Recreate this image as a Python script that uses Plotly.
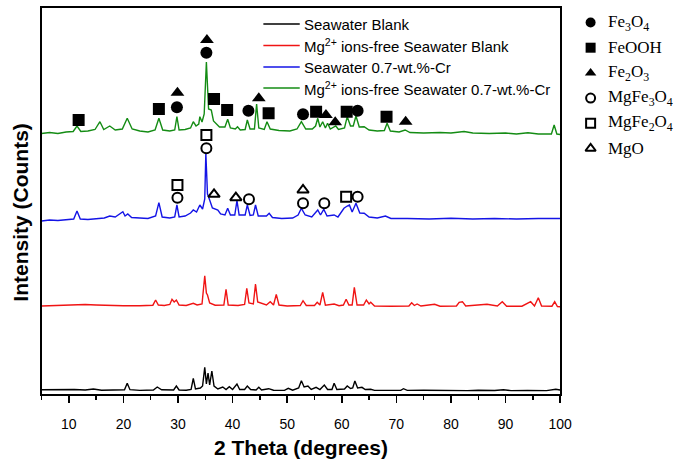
import plotly.graph_objects as go

W, H = 694, 468

# ---------------- data (2θ in degrees, intensity in arbitrary stacked units) ----------------
black_x = [5, 7, 9, 11, 13, 14.5, 16, 18, 20.2, 20.7, 21.2, 23, 25.5, 26.2, 27, 29.2, 29.7, 30.2, 31.5, 32.4,
           32.8, 33.2, 34.1, 34.5, 34.9, 35.2, 35.5, 35.8, 36.2, 36.6, 37.3, 38.2, 38.8, 39.4, 40, 40.8, 41.3,
           42.2, 42.7, 43.3, 44.3, 44.8, 45.3, 46.6, 47.5, 49.5, 50.2, 51, 52.1, 52.6, 53.1, 53.8, 54.4, 55.3,
           56, 56.8, 57.4, 58.2, 58.6, 59.1, 60.5, 61.0, 61.6, 62.0, 62.4, 62.9, 63.7, 64.3, 65.3, 66, 68, 70.8,
           71.3, 72, 75, 78, 80, 83, 85, 88, 89.6, 91, 94, 96, 97.5, 99.2, 100]
black_y = [4.2, 4.5, 4.8, 4.5, 4, 5, 3.8, 3.8, 4.2, 10.7, 4.3, 3.6, 4, 7, 4.2, 4, 8, 4, 3.8, 4.5,
           15.7, 5, 6, 8, 26.7, 10, 21, 9, 23, 8, 5, 7, 4.5, 7.3, 4.5, 10, 4.5,
           4.5, 8, 4.5, 4, 6.7, 4, 5.3, 3.8, 3.6, 5.7, 3.8, 6, 13.3, 7, 8, 4.5, 6.7,
           4.5, 9, 4.5, 4.5, 10.7, 4.5, 5, 8, 5.5, 6, 13, 6, 6.7, 4.5, 4.7, 3.6, 3.8, 3.6,
           5.3, 3.6, 3.8, 3.5, 3.6, 3.4, 3.8, 3.5, 4.2, 3.4, 3.6, 3.8, 3.4, 4.7, 4]

red_x = [5, 7, 9, 11, 13, 15, 17, 20, 23, 25.4, 25.9, 26.4, 27.5, 28.5, 28.9, 29.3, 29.7, 30.2, 31.5, 32.8,
         33.5, 34.4, 34.9, 35.2, 35.4, 35.8, 36.8, 38.4, 38.8, 39.2, 41, 42.2, 42.6, 43.0, 43.8, 44.2, 44.6,
         45.4, 46.2, 46.9, 47.5, 48.0, 48.5, 50, 52.4, 52.9, 53.5, 55.0, 55.5, 56.0, 56.5, 57, 58.6, 59.5,
         60.3, 60.8, 61.3, 61.9, 62.3, 62.8, 64.0, 64.5, 65.0, 65.3, 66, 69, 72.3, 72.8, 73.3, 73.8, 74.5,
         77.0, 78, 81, 81.5, 82.1, 82.7, 86.6, 88.5, 89.4, 90.2, 93, 94.6, 95.3, 96.0, 96.6, 98.5, 99.0,
         99.5, 100]
red_y = [88, 88.5, 89.2, 89.7, 89.5, 89, 88.5, 88.2, 88.3, 88.8, 94, 89, 88.5, 89.5, 94.7, 92, 94, 89, 88.5, 90.7,
         89, 90, 118.3, 101, 99, 91, 88.8, 89, 104.7, 89, 88.5, 89.5, 105.7, 91, 90, 110, 92,
         90.7, 89, 92.3, 89, 99.7, 89, 88, 88.5, 93.3, 88.5, 88.5, 91.7, 89, 101.7, 88.8, 90, 88.3,
         89, 94.7, 89, 89, 106.7, 89, 89, 94, 90, 91.7, 88, 87.8, 88, 91.3, 88.5, 90, 88,
         89.7, 87.8, 88, 91.7, 92.3, 88, 89.7, 88, 92.3, 87.8, 87.8, 92.3, 88, 96.3, 88, 87.8, 92.3,
         87.5, 87.3]

blue_x = [5, 6.5, 8, 10, 10.9, 11.5, 12.1, 13.5, 15, 16.5, 17.5, 18.5, 19.9, 20.3, 20.8, 21.5, 23, 24.5, 25.9,
          26.5, 27.1, 28.5, 29.4, 29.8, 30.2, 31.3, 32.3, 32.8, 33.4, 34.0, 34.5, 34.9, 35.1, 35.4, 35.8, 36.3,
          37.3, 37.8, 38.6, 39.1, 39.6, 40.4, 40.8, 41.2, 42.3, 42.7, 43.2, 43.8, 44.2, 44.7, 46.2, 46.7, 47.3,
          49, 51, 52.0, 52.6, 53.3, 54.5, 55.6, 56.1, 56.7, 57.3, 58.6, 59.3, 60.4, 61.0, 61.4, 61.9, 62.6,
          63.3, 64.1, 65, 66.5, 68.0, 69, 72, 76, 80, 84, 88, 92, 96, 100]
blue_y = [173, 174, 173.5, 174.5, 175, 183, 175, 174.5, 175, 176, 178, 177, 182.3, 178, 180, 176.5, 176, 175.5, 178,
          191.3, 177, 176, 177, 189, 177, 178, 181, 184, 182, 189, 185, 195, 240.7, 200, 194, 186,
          184, 180, 179, 185.7, 179, 179, 193.3, 179, 179, 189, 178.5, 179, 189, 178, 178, 180.7, 176.5,
          175.5, 176, 179, 185.7, 179, 177, 184, 179, 184.7, 178, 179, 177, 185.7, 188, 189, 182, 190.7,
          181, 180.7, 177, 176, 178, 175.5, 175.5, 175, 175.8, 175, 175.5, 175, 175.5, 175.5]

green_x = [5, 6.5, 8, 9.5, 10.8, 11.5, 12.2, 13.5, 14.8, 15.7, 16.4, 17.5, 18.5, 19.8, 20.7, 21.6, 23, 24.5, 25.8,
           26.5, 27.2, 28.5, 29.4, 29.8, 30.2, 31.3, 32.3, 32.8, 33.3, 33.8, 34.0, 34.4, 34.8, 35.2, 35.6, 36.1,
           36.5, 37.0, 37.6, 38.6, 39.1, 39.6, 40.5, 40.9, 41.4, 42.3, 42.7, 43.2, 44.0, 44.4, 44.8, 45.8, 46.3,
           46.9, 48.5, 50.5, 51.8, 52.6, 53.4, 54.6, 55.2, 55.6, 56.0, 56.5, 57.0, 57.4, 57.9, 58.9, 59.4, 60.5,
           61.0, 61.6, 62.1, 62.6, 63.2, 64.1, 65, 66.5, 67.8, 68.3, 68.9, 70.5, 71.6, 72.5, 75, 78, 80, 82.4,
           84, 87, 90, 92, 94.1, 96, 98.4, 98.9, 99.4, 100]
green_y = [260.5, 261.5, 260.5, 262, 262.5, 268, 262.5, 263, 264.5, 272.3, 264.5, 268, 264, 265, 275.7, 265, 263, 262, 264,
           275.7, 264, 263, 264, 277.3, 264, 264.5, 266, 272.3, 268, 270, 277.3, 272, 280, 332, 285, 284,
           273, 270.7, 267, 267, 274.7, 266, 265, 267.3, 264, 264.5, 274, 265, 265, 290, 266, 264.5, 272.3,
           265, 263.5, 263, 265, 272.3, 265, 265, 268, 275.7, 267, 272.3, 266, 270.7, 265, 268, 264.5, 266,
           277.3, 268, 268, 278, 267, 267.3, 264, 263, 263.5, 270.7, 263, 262, 264, 261.5, 261, 261.5, 261, 262.5,
           261, 260.5, 261, 260, 261.3, 260, 260, 269, 260, 259.5]

series_names = ["Seawater Blank", "Mg<sup>2+</sup> ions-free Seawater Blank",
                "Seawater 0.7-wt.%-Cr", "Mg<sup>2+</sup> ions-free Seawater 0.7-wt.%-Cr"]
series_colors = ["#000000", "#f01414", "#1414e6", "#148c14"]

# phase identification markers (2θ, marker height)
fe3o4_x = [29.8, 35.2, 42.9, 52.9, 62.9]
fe3o4_y = [286.7, 341.3, 283.3, 279.7, 283.3]
feooh_x = [11.8, 26.5, 36.6, 39.0, 46.6, 55.3, 60.9, 68.2]
feooh_y = [274, 285, 295, 284, 280.7, 282.3, 282.3, 277.3]
fe2o3_x = [29.9, 35.3, 44.8, 57.1, 58.8, 71.7]
fe2o3_y = [301.3, 354, 295.7, 279, 271.7, 272.3]
mgfe3o4_x = [35.2, 29.9, 43.0, 52.9, 56.8, 62.9]
mgfe3o4_y = [245.7, 196.3, 194.7, 190.7, 190.7, 197.3]
mgfe2o4_x = [35.2, 29.9, 60.8]
mgfe2o4_y = [259, 209, 197.3]
mgo_x = [36.6, 40.6, 52.9]
mgo_y = [199.7, 196.3, 204]

phase_names = ["Fe<sub>3</sub>O<sub>4</sub>", "FeOOH", "Fe<sub>2</sub>O<sub>3</sub>",
               "MgFe<sub>3</sub>O<sub>4</sub>", "MgFe<sub>2</sub>O<sub>4</sub>", "MgO"]
phase_symbols = ["circle", "square", "triangle-up", "circle-open", "square-open", "triangle-up-open"]

# ---------------- figure ----------------
SANS = "Liberation Sans, Arial, sans-serif"
SERIF = "Liberation Serif, Times New Roman, serif"

# plot area in pixels
PL, PR, PT, PB = 42.25, 570, 8, 394

fig = go.Figure()

traces = [(black_x, black_y), (red_x, red_y), (blue_x, blue_y), (green_x, green_y)]
for (xs, ys), name, col in zip(traces, series_names, series_colors):
    fig.add_trace(go.Scatter(x=xs, y=ys, mode="lines", name=name,
                             line=dict(color=col, width=1.4), showlegend=False))

phase_data = [(fe3o4_x, fe3o4_y), (feooh_x, feooh_y), (fe2o3_x, fe2o3_y),
              (mgfe3o4_x, mgfe3o4_y), (mgfe2o4_x, mgfe2o4_y), (mgo_x, mgo_y)]
for (xs, ys), name, sym in zip(phase_data, phase_names, phase_symbols):
    is_open = "open" in sym
    fig.add_trace(go.Scatter(x=xs, y=ys, mode="markers", name=name, showlegend=False,
                             marker=dict(symbol=sym, size=10 if is_open else 12, color="black",
                                         line=dict(color="black", width=2 if is_open else 0))))

# overlay axis in pixel units for the legends
leg_sym_x = 601
leg_txt_x = 617
leg_rows = [22.5, 47.7, 72.9, 98.1, 123.3, 148.5]
for i, (name, sym) in enumerate(zip(phase_names, phase_symbols)):
    is_open = "open" in sym
    fig.add_trace(go.Scatter(x=[leg_sym_x], y=[leg_rows[i]], mode="markers", xaxis="x2", yaxis="y2",
                             showlegend=False, cliponaxis=False,
                             marker=dict(symbol=sym, size=9 if is_open else 10, color="black",
                                         line=dict(color="black", width=2 if is_open else 0))))
    fig.add_annotation(x=leg_txt_x, y=leg_rows[i], xref="x2", yref="y2", text=name, showarrow=False,
                       xanchor="left", yanchor="middle", font=dict(family=SERIF, size=17, color="black"))

line_rows = [24, 45.5, 67, 88]
for i, (name, col) in enumerate(zip(series_names, series_colors)):
    fig.add_trace(go.Scatter(x=[268, 305], y=[line_rows[i]] * 2, mode="lines", xaxis="x2", yaxis="y2",
                             showlegend=False, line=dict(color=col, width=1.6)))
    fig.add_annotation(x=307, y=line_rows[i], xref="x2", yref="y2", text=name, showarrow=False,
                       xanchor="left", yanchor="middle", font=dict(family=SANS, size=15, color="black"))

# axis titles
fig.add_annotation(x=(PL + PR) / 2 / W, y=1 - 447 / H, xref="paper", yref="paper",
                   text="<b>2 Theta (degrees)</b>", showarrow=False,
                   font=dict(family=SANS, size=21, color="black"), xanchor="center", yanchor="middle")
fig.add_annotation(x=21 / W, y=1 - 212 / H, xref="paper", yref="paper",
                   text="<b>Intensity (Counts)</b>", showarrow=False, textangle=-90,
                   font=dict(family=SANS, size=21, color="black"), xanchor="center", yanchor="middle")

fig.update_layout(
    width=W, height=H, autosize=False,
    margin=dict(l=0, r=0, t=0, b=0),
    paper_bgcolor="white", plot_bgcolor="rgba(0,0,0,0)",
    hovermode=False,
    xaxis=dict(domain=[PL / W, PR / W], range=[5, 100], tick0=0, dtick=10,
               showline=True, linecolor="black", linewidth=2, mirror=True,
               ticks="outside", ticklen=7, tickwidth=1.5, tickcolor="black",
               ticklabelstandoff=9,
               minor=dict(dtick=5, ticks="outside", ticklen=4, tickwidth=1.5, tickcolor="black"),
               showgrid=False, zeroline=False,
               tickfont=dict(family=SANS, size=14, color="black")),
    yaxis=dict(domain=[1 - PB / H, 1 - PT / H], range=[0, 386], showticklabels=False, ticks="",
               showline=True, linecolor="black", linewidth=2, mirror=True,
               showgrid=False, zeroline=False),
    xaxis2=dict(domain=[0, 1], range=[0, W], visible=False, anchor="y2"),
    yaxis2=dict(domain=[0, 1], range=[H, 0], visible=False, anchor="x2"),
)

fig.write_html("out.html", config={"displayModeBar": False, "staticPlot": True},
               post_script="document.body.style.margin='0';")
